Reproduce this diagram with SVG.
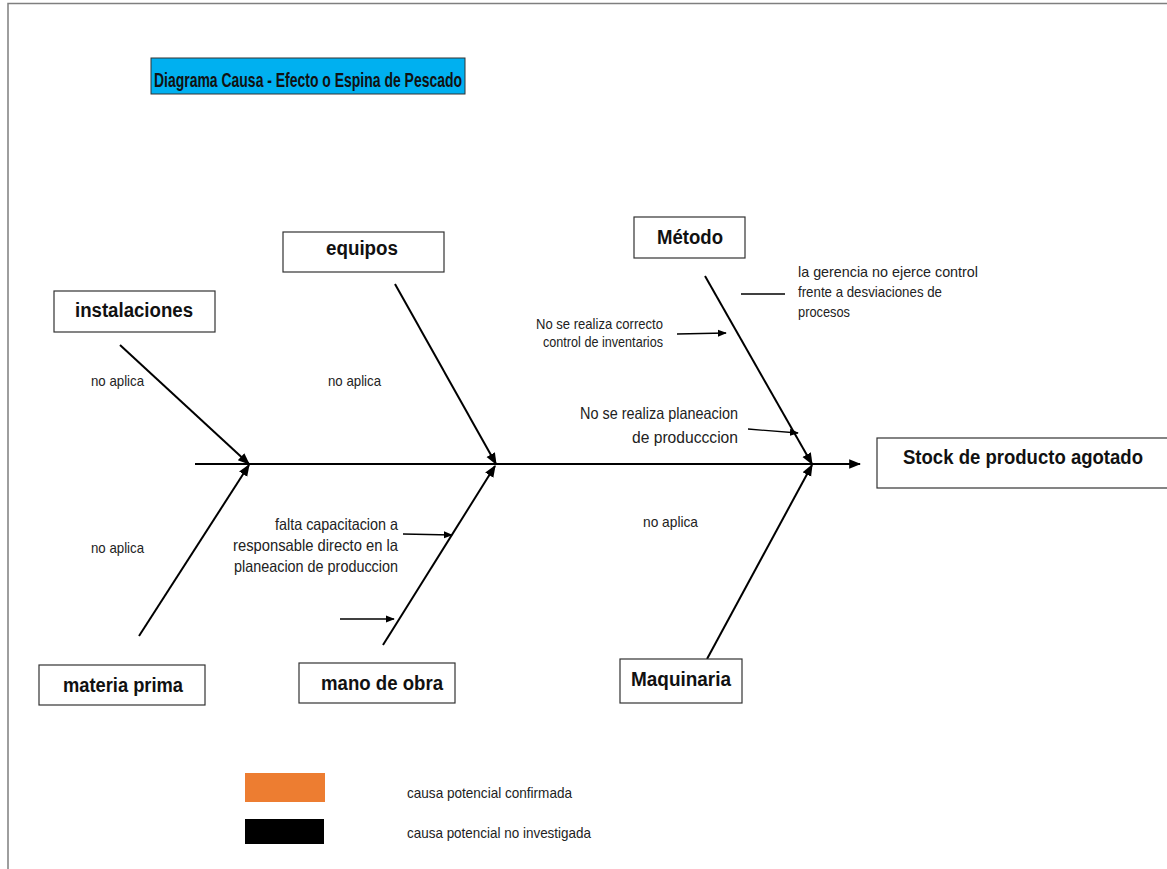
<svg xmlns="http://www.w3.org/2000/svg" width="1167" height="869" viewBox="0 0 1167 869">
<defs>
<style>
.box{fill:#fff;stroke:#333;stroke-width:1.2}
.lbl{font-family:"Liberation Sans",Arial,sans-serif;font-weight:bold;font-size:20px;fill:#111}
.ttl{font-family:"Liberation Sans",Arial,sans-serif;font-weight:bold;font-size:21px;fill:#111}
.sm{font-family:"Liberation Sans",Arial,sans-serif;font-size:15px;fill:#222}
.nar{font-family:"Liberation Sans",Arial,sans-serif;font-size:16.5px;fill:#222}
.bone{stroke:#000;stroke-width:2;fill:none}
.sub{stroke:#000;stroke-width:1.3;fill:none}
</style>
<marker id="ahs" viewBox="0 0 10 10" refX="9" refY="5" markerWidth="9" markerHeight="9" markerUnits="userSpaceOnUse" orient="auto">
<path d="M0,1 L10,5 L0,9 z" fill="#000"/>
</marker>
<marker id="ahb" viewBox="0 0 10 10" refX="9" refY="5" markerWidth="12" markerHeight="12" markerUnits="userSpaceOnUse" orient="auto">
<path d="M0,1 L10,5 L0,9 z" fill="#000"/>
</marker>
</defs>
<rect x="0" y="0" width="1167" height="869" fill="#fff"/>
<path d="M8,869 L8,3.5 L1167,3.5" fill="none" stroke="#7f7f7f" stroke-width="1.5"/>

<g id="title">
<rect x="151" y="58" width="314" height="36" fill="#00B0F0" stroke="#333" stroke-width="1"/>
<text class="ttl" x="154" y="87" textLength="308" lengthAdjust="spacingAndGlyphs">Diagrama Causa - Efecto o Espina de Pescado</text>
</g>

<g id="connectors">
<line class="bone" x1="195" y1="464" x2="860" y2="464" marker-end="url(#ahb)"/>
<line class="bone" x1="120" y1="345" x2="249" y2="464" marker-end="url(#ahb)"/>
<line class="bone" x1="395" y1="284" x2="496" y2="464" marker-end="url(#ahb)"/>
<line class="bone" x1="705" y1="276" x2="812" y2="464" marker-end="url(#ahb)"/>
<line class="bone" x1="139" y1="636" x2="249" y2="465" marker-end="url(#ahb)"/>
<line class="bone" x1="383" y1="645" x2="495" y2="466" marker-end="url(#ahb)"/>
<line class="bone" x1="707" y1="659" x2="812" y2="465" marker-end="url(#ahb)"/>
<line class="sub" x1="403" y1="534" x2="452" y2="535" marker-end="url(#ahs)"/>
<line class="sub" x1="340" y1="619" x2="394" y2="619" marker-end="url(#ahs)"/>
<line class="sub" x1="677" y1="334" x2="726" y2="333" marker-end="url(#ahs)"/>
<line class="sub" x1="748" y1="429" x2="798" y2="433" marker-end="url(#ahs)"/>
<line class="sub" x1="741" y1="294" x2="785" y2="294"/>
</g>

<g id="effect">
<rect class="box" x="877" y="438" width="295" height="50"/>
<text class="lbl" x="903" y="464" textLength="240" lengthAdjust="spacingAndGlyphs">Stock de producto agotado</text>
</g>

<g id="instalaciones">
<rect class="box" x="54" y="291" width="161" height="41"/>
<text class="lbl" x="75" y="317" textLength="118" lengthAdjust="spacingAndGlyphs">instalaciones</text>
<text class="sm" x="91" y="386" textLength="53" lengthAdjust="spacingAndGlyphs">no aplica</text>
</g>

<g id="equipos">
<rect class="box" x="283" y="232" width="161" height="40"/>
<text class="lbl" x="326" y="255" textLength="72" lengthAdjust="spacingAndGlyphs">equipos</text>
<text class="sm" x="328" y="386" textLength="53" lengthAdjust="spacingAndGlyphs">no aplica</text>
</g>

<g id="metodo">
<rect class="box" x="634" y="217" width="111" height="41"/>
<text class="lbl" x="657" y="244" textLength="66" lengthAdjust="spacingAndGlyphs">Método</text>
<text class="sm" text-anchor="end" x="663" y="329" textLength="127" lengthAdjust="spacingAndGlyphs">No se realiza correcto</text>
<text class="sm" text-anchor="end" x="663" y="347" textLength="120" lengthAdjust="spacingAndGlyphs">control de inventarios</text>
<text class="nar" text-anchor="end" x="738" y="419" textLength="158" lengthAdjust="spacingAndGlyphs">No se realiza planeacion</text>
<text class="nar" text-anchor="end" x="738" y="443" textLength="106" lengthAdjust="spacingAndGlyphs">de producccion</text>
<text class="sm" x="798" y="277" textLength="180" lengthAdjust="spacingAndGlyphs">la gerencia no ejerce control</text>
<text class="sm" x="798" y="297" textLength="144" lengthAdjust="spacingAndGlyphs">frente a desviaciones de</text>
<text class="sm" x="798" y="317" textLength="52" lengthAdjust="spacingAndGlyphs">procesos</text>
</g>

<g id="materia-prima">
<rect class="box" x="39" y="665" width="166" height="40"/>
<text class="lbl" x="63" y="692" textLength="120" lengthAdjust="spacingAndGlyphs">materia prima</text>
<text class="sm" x="91" y="553" textLength="53" lengthAdjust="spacingAndGlyphs">no aplica</text>
</g>

<g id="mano-de-obra">
<rect class="box" x="299" y="663" width="156" height="40"/>
<text class="lbl" x="321" y="690" textLength="122" lengthAdjust="spacingAndGlyphs">mano de obra</text>
<text class="nar" text-anchor="end" x="398" y="530" textLength="123" lengthAdjust="spacingAndGlyphs">falta capacitacion a</text>
<text class="nar" text-anchor="end" x="398" y="551" textLength="165" lengthAdjust="spacingAndGlyphs">responsable  directo en la</text>
<text class="nar" text-anchor="end" x="398" y="572" textLength="164" lengthAdjust="spacingAndGlyphs">planeacion de produccion</text>
</g>

<g id="maquinaria">
<rect class="box" x="620" y="659" width="122" height="44"/>
<text class="lbl" x="631" y="686" textLength="100" lengthAdjust="spacingAndGlyphs">Maquinaria</text>
<text class="sm" x="643" y="527" textLength="55" lengthAdjust="spacingAndGlyphs">no aplica</text>
</g>

<g id="legend">
<rect x="245" y="773" width="80" height="29" fill="#ED7D31"/>
<text class="sm" x="407" y="798" textLength="165" lengthAdjust="spacingAndGlyphs">causa potencial confirmada</text>
<rect x="245" y="819" width="79" height="25" fill="#000"/>
<text class="sm" x="407" y="838" textLength="184" lengthAdjust="spacingAndGlyphs">causa potencial no investigada</text>
</g>
</svg>
